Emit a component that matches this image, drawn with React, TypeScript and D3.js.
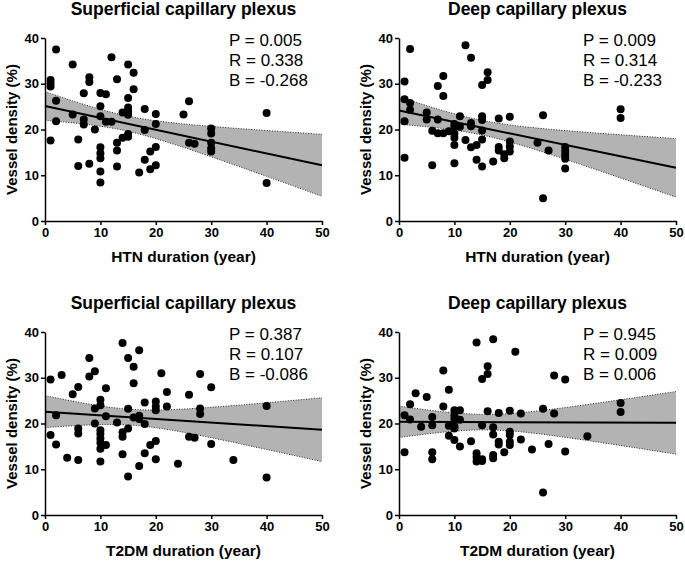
import * as d3 from "d3";
import { useEffect, useRef } from "react";

// vessel density (%) vs disease duration (year)
const htnSuperficial: [number, number][] = [
  [1, 30.8], [1, 30.1], [1, 29.4], [1, 17.6], [2, 37.5], [2, 26.3], [2, 21.8],
  [5, 34.2], [5, 23.3], [6, 17.8], [6, 12.0], [7, 27.9], [7, 22.2], [7, 21.1],
  [8, 31.4], [8, 30.4], [8, 12.5], [9, 20.0], [10, 28.0], [10, 25.1], [10, 22.9],
  [10, 16.1], [10, 14.8], [10, 13.7], [10, 10.8], [10, 8.4], [11, 27.7], [11, 21.7],
  [12, 35.8], [12, 21.7], [13, 31.0], [13, 17.1], [13, 15.4], [13, 11.9], [14, 23.7],
  [14, 18.2], [15, 34.2], [15, 26.9], [15, 24.8], [15, 24.0], [15, 23.2], [15, 19.0],
  [15, 18.4], [16, 32.4], [16, 28.8], [17, 10.6], [18, 24.5], [18, 19.9], [18, 13.4],
  [19, 15.2], [19, 11.3], [20, 23.4], [20, 21.2], [20, 16.2], [20, 12.2], [25, 23.3],
  [26, 26.2], [26, 17.1], [27, 16.9], [30, 20.2], [30, 19.1], [30, 17.1], [30, 15.9],
  [30, 15.2], [40, 23.6], [40, 8.3],
];

const htnDeep: [number, number][] = [
  [1, 30.5], [1, 26.6], [1, 21.8], [1, 13.8], [2, 37.6], [2, 25.8], [2, 24.3],
  [5, 23.7], [5, 22.2], [6, 19.7], [6, 12.2], [7, 29.5], [7, 22.2], [7, 19.2],
  [8, 31.7], [8, 27.3], [8, 19.2], [9, 19.6], [10, 21.2], [10, 20.6], [10, 19.1],
  [10, 18.2], [10, 16.6], [10, 12.6], [11, 22.9], [11, 20.6], [12, 38.4], [12, 17.7],
  [13, 35.7], [13, 21.4], [13, 20.7], [13, 16.1], [14, 16.6], [14, 13.4], [15, 29.7],
  [15, 22.9], [15, 22.1], [15, 19.8], [15, 17.8], [15, 11.9], [16, 32.5], [16, 30.8],
  [17, 13.0], [18, 22.4], [18, 16.2], [18, 15.4], [19, 14.6], [19, 13.7], [20, 22.8],
  [20, 17.4], [20, 16.3], [20, 15.2], [25, 17.1], [26, 23.1], [26, 5.0], [27, 15.4],
  [30, 16.2], [30, 15.3], [30, 14.4], [30, 13.6], [30, 11.5], [40, 24.4], [40, 22.5],
];

const t2dmSuperficial: [number, number][] = [
  [1, 29.6], [1, 17.5], [2, 21.8], [2, 15.4], [3, 30.6], [4, 12.5], [5, 26.4],
  [6, 28.0], [6, 18.9], [6, 17.8], [6, 12.0], [8, 34.3], [8, 30.3], [9, 31.4],
  [9, 23.3], [9, 20.0], [10, 25.2], [10, 24.0], [10, 18.5], [10, 17.7], [10, 16.7],
  [10, 15.8], [10, 14.5], [10, 11.7], [11, 27.7], [11, 21.6], [11, 15.3], [13, 20.2],
  [14, 37.6], [14, 18.1], [14, 17.1], [14, 13.3], [15, 34.3], [15, 23.2], [15, 18.9],
  [15, 8.4], [16, 32.4], [16, 28.8], [16, 21.3], [17, 36.0], [17, 21.7], [17, 21.0],
  [17, 10.7], [18, 24.6], [18, 19.9], [18, 13.5], [19, 15.3], [20, 24.8], [20, 23.7],
  [20, 22.9], [20, 16.2], [20, 12.2], [21, 31.0], [22, 26.9], [22, 23.7], [24, 11.2],
  [26, 26.3], [26, 17.1], [27, 16.9], [28, 30.8], [28, 23.3], [28, 22.1], [30, 27.9],
  [30, 15.5], [34, 12.0], [40, 23.8], [40, 8.2],
];

const t2dmDeep: [number, number][] = [
  [1, 21.8], [1, 13.7], [2, 24.2], [2, 20.9], [3, 26.6], [4, 19.3], [5, 25.8],
  [6, 21.4], [6, 19.6], [6, 13.7], [6, 12.2], [8, 31.6], [8, 23.7], [9, 27.4],
  [9, 19.5], [9, 17.3], [10, 22.9], [10, 21.8], [10, 21.0], [10, 19.4], [10, 18.9],
  [10, 16.4], [11, 22.9], [11, 20.8], [11, 15.0], [13, 16.1], [14, 37.7], [14, 13.5],
  [14, 12.7], [14, 11.7], [15, 29.7], [15, 19.6], [15, 12.2], [15, 11.8], [16, 32.5],
  [16, 30.8], [16, 22.7], [17, 38.4], [17, 19.2], [17, 17.6], [17, 13.1], [17, 12.4],
  [18, 22.3], [18, 16.0], [18, 15.4], [19, 13.7], [20, 22.8], [20, 18.2], [20, 17.5],
  [20, 16.0], [20, 15.3], [21, 35.7], [22, 22.2], [22, 16.5], [24, 14.3], [26, 23.2],
  [26, 4.9], [27, 15.5], [28, 30.5], [28, 22.2], [30, 29.6], [30, 13.9], [34, 17.2],
  [40, 24.5], [40, 22.5],
];

const titles = ["Superficial capillary plexus", "Deep capillary plexus"];
const xLabels = ["HTN duration (year)", "T2DM duration (year)"];
const yLabel = "Vessel density (%)";
const xTicks = [0, 10, 20, 30, 40, 50];
const yTicks = [0, 10, 20, 30, 40];
const stats = [
  ["P = 0.005", "R = 0.338", "B = -0.268"],
  ["P = 0.009", "R = 0.314", "B = -0.233"],
  ["P = 0.387", "R = 0.107", "B = -0.086"],
  ["P = 0.945", "R = 0.009", "B = 0.006"],
];

const font = "'Liberation Sans', Arial, sans-serif";

// least squares line with 95% confidence band of the mean
function linFit(data: [number, number][]) {
  const n = data.length;
  const mx = d3.mean(data, (d) => d[0]) as number;
  const my = d3.mean(data, (d) => d[1]) as number;
  const sxx = d3.sum(data, (d) => (d[0] - mx) ** 2);
  const sxy = d3.sum(data, (d) => (d[0] - mx) * (d[1] - my));
  const b = sxy / sxx;
  const a = my - b * mx;
  const sse = d3.sum(data, (d) => (d[1] - a - b * d[0]) ** 2);
  const s = Math.sqrt(sse / (n - 2));
  const t = 1.998;
  const yhat = (x: number) => a + b * x;
  const half = (x: number) => t * s * Math.sqrt(1 / n + (x - mx) ** 2 / sxx);
  return { yhat, lo: (x: number) => yhat(x) - half(x), hi: (x: number) => yhat(x) + half(x) };
}

export default function App() {
  const width = 685;
  const height = 561;
  const plotW = 277;
  const plotH = 183;

  const svgRef = useRef<SVGSVGElement>(null);

  useEffect(() => {
    const panels = [
      { data: htnSuperficial, title: titles[0], xLabel: xLabels[0], stats: stats[0], left: 45, top: 38 },
      { data: htnDeep, title: titles[1], xLabel: xLabels[0], stats: stats[1], left: 399, top: 38 },
      { data: t2dmSuperficial, title: titles[0], xLabel: xLabels[1], stats: stats[2], left: 45, top: 332 },
      { data: t2dmDeep, title: titles[1], xLabel: xLabels[1], stats: stats[3], left: 399, top: 332 },
    ];

    const svg = d3.select(svgRef.current);
    svg.selectAll("*").remove();

    const xScale = d3.scaleLinear().domain([0, 50]).range([0, plotW]);
    const yScale = d3.scaleLinear().domain([0, 40]).range([plotH, 0]);

    panels.forEach((p) => {
      const g = svg.append("g").attr("transform", `translate(${p.left},${p.top})`);
      const fit = linFit(p.data);
      const xs = d3.range(0, 50.001, 0.5);

      // confidence band
      g.append("path")
        .datum(xs)
        .attr("fill", "#b3b3b3")
        .attr(
          "d",
          d3
            .area<number>()
            .x((d) => xScale(d))
            .y0((d) => yScale(fit.lo(d)))
            .y1((d) => yScale(fit.hi(d)))
        );

      [fit.lo, fit.hi].forEach((fn) => {
        g.append("path")
          .datum(xs)
          .attr("fill", "none")
          .attr("stroke", "#222")
          .attr("stroke-width", 1)
          .attr("stroke-dasharray", "1,1.6")
          .attr(
            "d",
            d3
              .line<number>()
              .x((d) => xScale(d))
              .y((d) => yScale(fn(d)))
          );
      });

      // points
      g.selectAll("circle.pt")
        .data(p.data)
        .enter()
        .append("circle")
        .attr("class", "pt")
        .attr("cx", (d) => xScale(d[0]))
        .attr("cy", (d) => yScale(d[1]))
        .attr("r", 4)
        .attr("fill", "#000");

      // regression line
      g.append("line")
        .attr("x1", xScale(0))
        .attr("y1", yScale(fit.yhat(0)))
        .attr("x2", xScale(50))
        .attr("y2", yScale(fit.yhat(50)))
        .attr("stroke", "#000")
        .attr("stroke-width", 2);

      // axes
      const xAxis = d3.axisBottom(xScale).tickValues(xTicks).tickSize(4).tickSizeOuter(0).tickPadding(3);
      const yAxis = d3.axisLeft(yScale).tickValues(yTicks).tickSize(4).tickSizeOuter(0).tickPadding(2);

      const gx = g.append("g").attr("transform", `translate(0,${plotH})`).call(xAxis);
      const gy = g.append("g").call(yAxis);
      [gx, gy].forEach((ax) => {
        ax.selectAll("path, line").attr("stroke", "#000").attr("stroke-width", 1.5);
        ax.selectAll("text")
          .attr("fill", "#000")
          .style("font-family", font)
          .style("font-weight", "bold")
          .style("font-size", "13px");
      });

      // title
      g.append("text")
        .attr("x", plotW / 2)
        .attr("y", -23)
        .attr("text-anchor", "middle")
        .style("font-family", font)
        .style("font-weight", "bold")
        .style("font-size", "17.5px")
        .text(p.title);

      // stats
      p.stats.forEach((s, i) => {
        g.append("text")
          .attr("x", 184)
          .attr("y", 8 + i * 20)
          .style("font-family", font)
          .style("font-size", "17px")
          .text(s);
      });

      // axis titles
      g.append("text")
        .attr("x", plotW / 2)
        .attr("y", plotH + 41)
        .attr("text-anchor", "middle")
        .style("font-family", font)
        .style("font-weight", "bold")
        .style("font-size", "15.5px")
        .text(p.xLabel);

      g.append("text")
        .attr("transform", `translate(-28,${plotH / 2}) rotate(-90)`)
        .attr("text-anchor", "middle")
        .style("font-family", font)
        .style("font-weight", "bold")
        .style("font-size", "15px")
        .text(yLabel);
    });
  }, []);

  return (
    <svg
      ref={svgRef}
      width={width}
      height={height}
      style={{ position: "absolute", left: 0, top: 0, background: "#fff" }}
    />
  );
}
